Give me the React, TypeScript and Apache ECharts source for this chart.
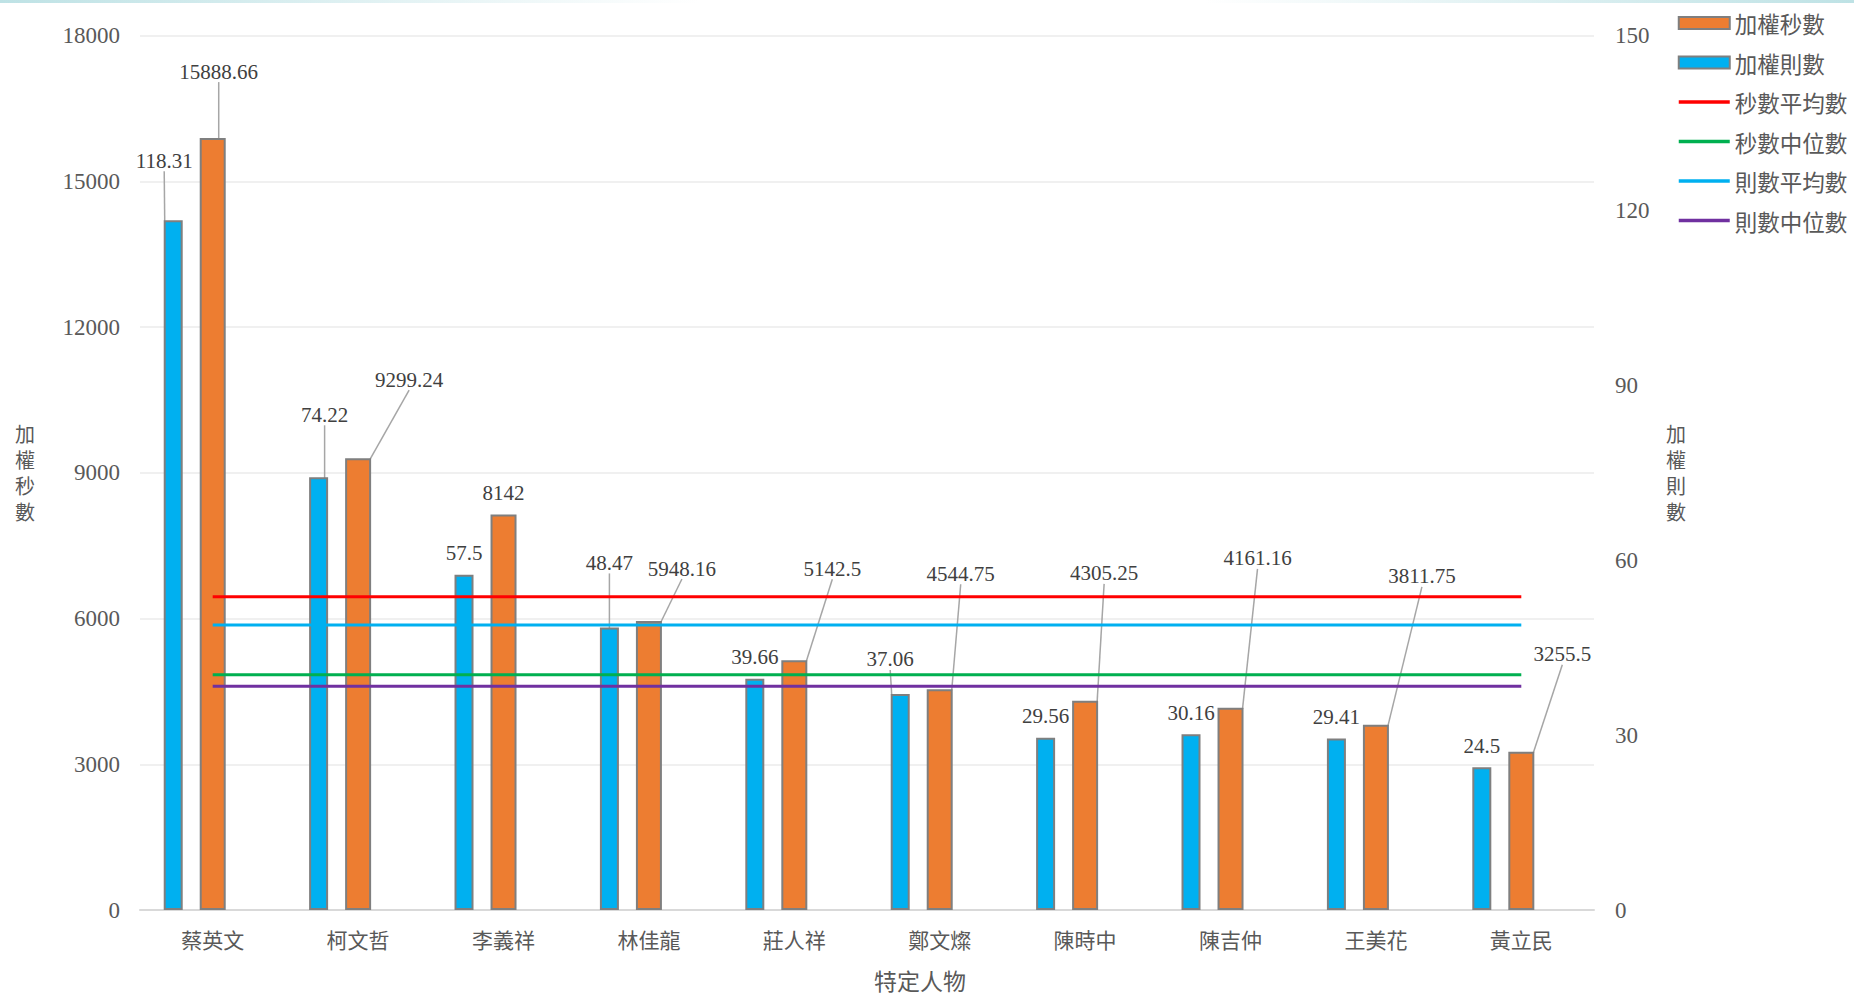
import React, { useEffect, useRef } from 'react';
import * as echarts from 'echarts';

const categories = ['蔡英文', '柯文哲', '李義祥', '林佳龍', '莊人祥', '鄭文燦', '陳時中', '陳吉仲', '王美花', '黃立民'];
const weightedSeconds = [15888.66, 9299.24, 8142, 5948.16, 5142.5, 4544.75, 4305.25, 4161.16, 3811.75, 3255.5];
const weightedCounts = [118.31, 74.22, 57.5, 48.47, 39.66, 37.06, 29.56, 30.16, 29.41, 24.5];
const secondsMean = [6449.9, 6449.9, 6449.9, 6449.9, 6449.9, 6449.9, 6449.9, 6449.9, 6449.9, 6449.9];
const secondsMedian = [4843.63, 4843.63, 4843.63, 4843.63, 4843.63, 4843.63, 4843.63, 4843.63, 4843.63, 4843.63];
const countsMean = [48.89, 48.89, 48.89, 48.89, 48.89, 48.89, 48.89, 48.89, 48.89, 48.89];
const countsMedian = [38.36, 38.36, 38.36, 38.36, 38.36, 38.36, 38.36, 38.36, 38.36, 38.36];
const placeholder = ['-', '-', '-', '-', '-', '-', '-', '-', '-', '-'];

const leftAxis = { min: 0, max: 18000, interval: 3000 };
const rightAxis = { min: 0, max: 150, interval: 30 };

// label offsets (dx, dy) relative to default top label position
const secLabelOffsets = [[6, -45], [51, -57], [0, 0], [33, -31], [38, -70], [21, -94], [19, -106], [27, -128], [46, -127], [41, -76]];
const secLabelLines = [true, true, false, true, true, true, true, true, true, true];
const cntLabelOffsets = [[-9, -38], [6, -41], [0, 0], [0, -43], [0, 0], [-10, -13], [0, 0], [0, 0], [0, 0], [0, 0]];
const cntLabelLines = [true, true, false, true, false, true, false, false, false, false];

const SERIF = "'Liberation Serif', 'Noto Sans CJK TC', serif";
const CJK = "'Noto Sans CJK TC', 'Liberation Serif', sans-serif";

export default function App() {
  const ref = useRef<HTMLDivElement>(null);
  useEffect(() => {
    document.body.style.margin = '0';
    document.body.style.overflow = 'hidden';
    if (!ref.current) return;
    const chart = echarts.init(ref.current, undefined, { renderer: 'svg' });
    const labelLineStyle = { show: true, lineStyle: { color: '#A6A6A6', width: 1.5 } };
    const lineSeries = (name: string, data: number[], color: string, yAxisIndex: number) => ({
      name,
      type: 'line',
      data,
      yAxisIndex,
      symbol: 'none',
      z: 3,
      lineStyle: { color, width: 3 },
      itemStyle: { color },
    });
    const plainNumber = (v: number) => String(v);
    const lineLegend = (name: string) => ({ name, itemStyle: { opacity: 0 }, lineStyle: { width: 3.5 } });
    chart.setOption({
      animation: false,
      textStyle: { fontFamily: SERIF },
      graphic: [
        {
          type: 'rect',
          left: 0,
          top: 0,
          shape: { width: 700, height: 3 },
          style: {
            fill: new echarts.graphic.LinearGradient(0, 0, 1, 0, [
              { offset: 0, color: 'rgba(190,226,229,1)' },
              { offset: 1, color: 'rgba(190,226,229,0)' },
            ]),
          },
          silent: true,
        },
        {
          type: 'rect',
          right: 0,
          top: 0,
          shape: { width: 650, height: 3 },
          style: {
            fill: new echarts.graphic.LinearGradient(0, 0, 1, 0, [
              { offset: 0, color: 'rgba(190,226,229,0)' },
              { offset: 1, color: 'rgba(190,226,229,1)' },
            ]),
          },
          silent: true,
        },
      ],
      legend: {
        orient: 'vertical',
        left: 1672,
        top: 6,
        itemWidth: 51,
        itemHeight: 12,
        itemGap: 15.5,
        textStyle: { fontFamily: CJK, fontSize: 22.5, lineHeight: 24, color: '#595959' },
        data: [
          { name: '加權秒數', icon: 'rect' },
          { name: '加權則數', icon: 'rect' },
          lineLegend('秒數平均數'),
          lineLegend('秒數中位數'),
          lineLegend('則數平均數'),
          lineLegend('則數中位數'),
        ],
      },
      grid: { left: 140, right: 260, top: 35.5, bottom: 85.5 },
      xAxis: {
        type: 'category',
        data: categories,
        name: '特定人物',
        nameLocation: 'middle',
        nameGap: 58,
        nameTextStyle: { fontFamily: CJK, fontSize: 23, color: '#595959', padding: [0, 0, 0, 106] },
        axisLine: { lineStyle: { color: '#D9D9D9', width: 2 } },
        axisTick: { show: false },
        axisLabel: { fontFamily: CJK, fontSize: 21, color: '#595959', margin: 18 },
      },
      yAxis: [
        {
          type: 'value',
          ...leftAxis,
          name: '加\n權\n秒\n數',
          nameLocation: 'middle',
          nameRotate: 0,
          nameGap: 105,
          nameTextStyle: { fontFamily: CJK, fontSize: 20, lineHeight: 26, color: '#595959' },
          axisLine: { show: false },
          axisTick: { show: false },
          axisLabel: { fontFamily: SERIF, fontSize: 23, color: '#595959', margin: 20, formatter: plainNumber },
          splitLine: { lineStyle: { color: '#EBEBEB', width: 1.5 } },
        },
        {
          type: 'value',
          ...rightAxis,
          name: '加\n權\n則\n數',
          nameLocation: 'middle',
          nameRotate: 0,
          nameGap: 72,
          nameTextStyle: { fontFamily: CJK, fontSize: 20, lineHeight: 26, color: '#595959' },
          axisLine: { show: false },
          axisTick: { show: false },
          axisLabel: { fontFamily: SERIF, fontSize: 23, color: '#595959', margin: 21, formatter: plainNumber },
          splitLine: { show: false },
        },
      ],
      series: [
        {
          name: '加權則數',
          type: 'bar',
          yAxisIndex: 1,
          barWidth: 19,
          barGap: '89.5%',
          data: weightedCounts.map((v, i) => ({ value: v, labelLine: { show: cntLabelLines[i] } })),
          itemStyle: { color: '#00B0F0', borderColor: '#7F7F7F', borderWidth: 2 },
          label: { show: true, position: 'top', distance: 11, fontFamily: SERIF, fontSize: 21, color: '#404040' },
          labelLine: labelLineStyle,
          labelLayout: (p: any) => ({ dx: cntLabelOffsets[p.dataIndex][0], dy: cntLabelOffsets[p.dataIndex][1] }),
          z: 2,
        },
        {
          name: '加權秒數',
          type: 'bar',
          yAxisIndex: 0,
          barWidth: 26,
          barGap: '89.5%',
          data: weightedSeconds.map((v, i) => ({ value: v, labelLine: { show: secLabelLines[i] } })),
          itemStyle: { color: '#ED7D31', borderColor: '#7F7F7F', borderWidth: 2 },
          label: { show: true, position: 'top', distance: 11, fontFamily: SERIF, fontSize: 21, color: '#404040' },
          labelLine: labelLineStyle,
          labelLayout: (p: any) => ({ dx: secLabelOffsets[p.dataIndex][0], dy: secLabelOffsets[p.dataIndex][1] }),
          z: 2,
        },
        {
          name: 'spacer',
          type: 'bar',
          yAxisIndex: 0,
          barWidth: 12.7,
          barGap: '89.5%',
          data: placeholder,
          itemStyle: { color: 'transparent' },
          silent: true,
        },
        lineSeries('秒數平均數', secondsMean, '#FF0000', 0),
        lineSeries('秒數中位數', secondsMedian, '#00B050', 0),
        lineSeries('則數平均數', countsMean, '#00B0F0', 1),
        lineSeries('則數中位數', countsMedian, '#7030A0', 1),
      ],
    });
    return () => chart.dispose();
  }, []);
  return <div ref={ref} style={{ width: 1854, height: 996 }} />;
}
